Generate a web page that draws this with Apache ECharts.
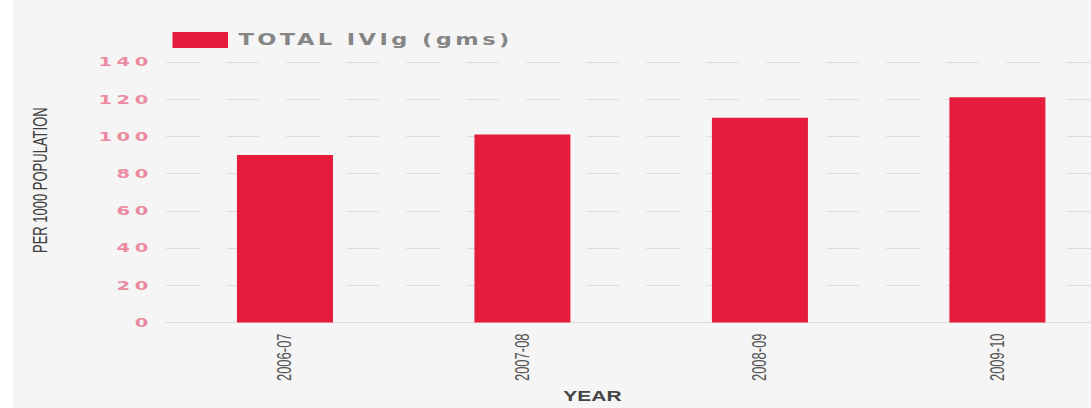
<!DOCTYPE html>
<html>
<head>
<meta charset="utf-8">
<script src="https://cdn.jsdelivr.net/npm/echarts@6/dist/echarts.min.js"></script>
<style>
  html, body {
    margin: 0; padding: 0; width: 1091px; height: 408px; overflow: hidden;
    background: linear-gradient(to right, #ffffff 13px, #f5f5f5 13px);
  }
  /* chart is laid out narrow and widened horizontally; the last column runs past the edge */
  #chart { width: 760px; height: 408px; transform: scaleX(1.5); transform-origin: 0 0; }
  /* wide tracking for the value ticks and the legend entry */
  #chart text[style*="DejaVu"][style*="13px"] { letter-spacing: 3px; }
  #chart text[style*="DejaVu"][style*="15px"] { letter-spacing: 2.3px; }
</style>
</head>
<body>
<div id="chart"></div>
<script>
// Fiscal years and total IVIg use (grams per 1000 population)
const years = ['2006-07', '2007-08', '2008-09', '2009-10'];
const ivigTotals = [90, 101, 110, 121];
const seriesName = 'TOTAL IVIg (gms)';
const valueMin = 0;
const valueMax = 140;
const valueStep = 20;

const RED = '#e51c3c';
const GRID_GREY = '#dcdcdc';

const chart = echarts.init(document.getElementById('chart'), null, { renderer: 'svg' });

chart.setOption({
  animation: false,
  backgroundColor: 'transparent',
  legend: {
    left: 110,
    top: 27,
    icon: 'rect',
    itemWidth: 37,
    itemHeight: 16,
    textStyle: {
      fontFamily: 'DejaVu Sans',
      fontWeight: 'bold',
      fontSize: 15,
      color: '#858585',
      padding: [0, 0, 0, 2]
    },
    data: [seriesName]
  },
  grid: {
    left: 110.8,
    top: 62,
    width: 633.3,
    height: 264
  },
  xAxis: {
    type: 'category',
    data: years,
    axisLine: { lineStyle: { color: GRID_GREY, width: 1 } },
    axisTick: { show: false },
    axisLabel: {
      rotate: 90,
      margin: 11,
      fontFamily: 'Liberation Sans',
      fontSize: 13,
      color: '#555555'
    },
    name: 'YEAR',
    nameLocation: 'middle',
    nameGap: 64,
    nameTextStyle: {
      fontFamily: 'Liberation Sans',
      fontWeight: 'bold',
      fontSize: 14,
      color: '#444444',
      padding: [0, 65, 0, 0]
    }
  },
  yAxis: {
    type: 'value',
    min: valueMin,
    max: valueMax,
    interval: valueStep,
    axisLine: { show: false },
    axisTick: { show: false },
    axisLabel: {
      margin: 9,
      fontFamily: 'DejaVu Sans',
      fontWeight: 'bold',
      fontSize: 13,
      color: '#ec8aa0'
    },
    splitLine: {
      lineStyle: { color: GRID_GREY, width: 1, type: [22, 18] }
    },
    name: 'PER 1000 POPULATION',
    nameLocation: 'middle',
    nameGap: 77,
    nameTextStyle: {
      fontFamily: 'Liberation Sans',
      fontSize: 13,
      color: '#3d3d3d',
      padding: [0, 0, 0, 24]
    }
  },
  series: [{
    name: seriesName,
    type: 'bar',
    data: ivigTotals,
    barWidth: 64,
    itemStyle: { color: RED }
  }]
});
</script>
</body>
</html>
